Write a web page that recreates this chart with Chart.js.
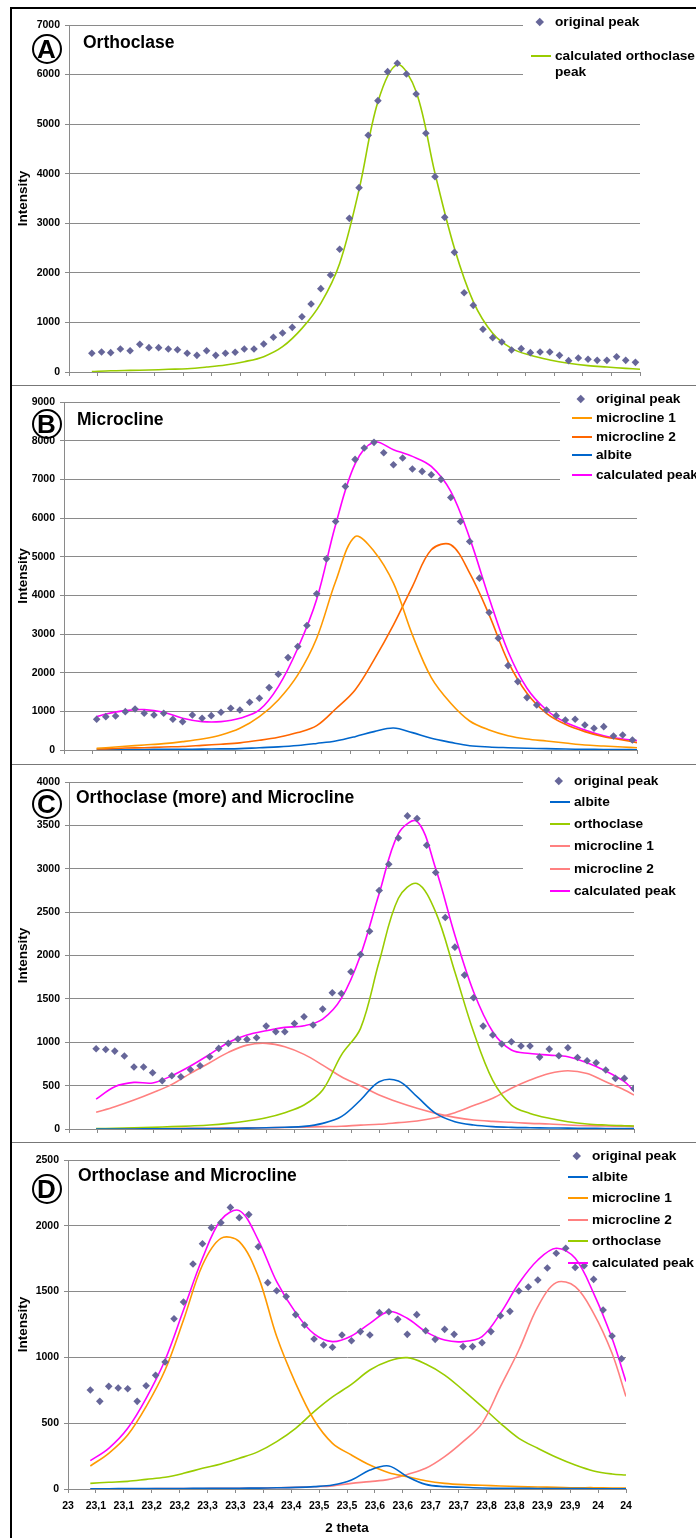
<!DOCTYPE html>
<html>
<head>
<meta charset="utf-8">
<script src="https://cdn.jsdelivr.net/npm/chart.js@4.4.1/dist/chart.umd.min.js"></script>
<style>
  html, body { margin: 0; padding: 0; background: #fff; }
  #page { position: relative; width: 696px; height: 1538px; overflow: hidden; font-family: "Liberation Sans", Arial, sans-serif; color: #000; }
  canvas { position: absolute; left: 0; }
  .frame { position: absolute; left: 10px; top: 7px; width: 800px; height: 1600px; border-left: 2px solid #000; border-top: 2px solid #000; z-index: 5; }
  .sep { position: absolute; left: 12px; width: 684px; height: 1px; background: #777; z-index: 5; }
  .title { position: absolute; font-weight: bold; font-size: 17.5px; line-height: 20px; white-space: nowrap; z-index: 4; }
  .badge { position: absolute; width: 26px; height: 26px; border: 2.5px solid #000; border-radius: 50%; font-weight: bold; font-size: 26px; line-height: 26px; text-align: center; z-index: 4; }
  .lg { position: absolute; height: 16px; font-weight: bold; font-size: 13.7px; line-height: 16px; white-space: pre; z-index: 4; }
  .ln { position: absolute; left: 0; top: 7px; width: 20px; height: 2px; }
  .dia { position: absolute; left: 6px; top: 5px; width: 5.5px; height: 5.5px; background: #666699; transform: rotate(45deg); }
  .lt { position: absolute; left: 24px; top: 0; }
</style>
</head>
<body>
<div id="page">
  <div class="frame"></div>
</div>
<script>
// 2 theta positions of the measured points (A, B and D share them, C is shifted)
const xGrid = [23.040, 23.057, 23.073, 23.090, 23.107, 23.124, 23.140, 23.157, 23.174, 23.190,
  23.207, 23.224, 23.241, 23.257, 23.274, 23.291, 23.307, 23.324, 23.341, 23.358,
  23.374, 23.391, 23.408, 23.424, 23.441, 23.458, 23.474, 23.491, 23.508, 23.524,
  23.541, 23.558, 23.575, 23.591, 23.608, 23.625, 23.641, 23.658, 23.675, 23.692,
  23.708, 23.725, 23.742, 23.758, 23.775, 23.792, 23.808, 23.825, 23.842, 23.859,
  23.875, 23.892, 23.909, 23.925, 23.942, 23.959, 23.975, 23.992];
const xGridB = xGrid.slice(1);
const xGridC = [23.048, 23.065, 23.081, 23.098, 23.115, 23.132, 23.148, 23.165, 23.182, 23.198,
  23.215, 23.232, 23.249, 23.265, 23.282, 23.299, 23.315, 23.332, 23.349, 23.366,
  23.382, 23.399, 23.416, 23.432, 23.449, 23.466, 23.482, 23.499, 23.516, 23.532,
  23.549, 23.566, 23.583, 23.599, 23.616, 23.633, 23.649, 23.666, 23.683, 23.700,
  23.716, 23.733, 23.750, 23.766, 23.783, 23.800, 23.816, 23.833, 23.850, 23.867,
  23.883, 23.900, 23.917, 23.933, 23.950, 23.967, 23.983, 24.000];

// 2 theta positions of the fitted curves
const xLine = [23.040, 23.073, 23.107, 23.140, 23.174, 23.207, 23.241, 23.274, 23.307, 23.341,
  23.374, 23.408, 23.441, 23.474, 23.508, 23.541, 23.575, 23.608, 23.641, 23.675,
  23.708, 23.742, 23.775, 23.808, 23.842, 23.875, 23.909, 23.942, 23.975, 24.000];
const xLineB = [23.057, 23.073, 23.107, 23.140, 23.174, 23.207, 23.241, 23.274, 23.307, 23.341,
  23.374, 23.408, 23.441, 23.474, 23.508, 23.541, 23.575, 23.608, 23.641, 23.675,
  23.708, 23.742, 23.775, 23.808, 23.842, 23.875, 23.909, 23.942, 23.975, 24.000];
const xLineC = [23.048, 23.081, 23.115, 23.148, 23.182, 23.215, 23.249, 23.282, 23.315, 23.349,
  23.382, 23.416, 23.449, 23.482, 23.516, 23.549, 23.583, 23.616, 23.649, 23.683,
  23.716, 23.750, 23.783, 23.816, 23.850, 23.883, 23.917, 23.950, 23.983, 24.000];

// A - Orthoclase
const peakA = [377, 403, 390, 464, 430, 558, 491, 491, 464, 450, 377, 336, 430, 336, 377, 397, 464, 464, 565, 700,
  787, 901, 1116, 1372, 1681, 1957, 2475, 3100, 3719, 4775, 5474, 6059, 6227, 6012, 5609, 4815, 3941, 3120, 2414, 1600,
  1345, 861, 693, 605, 444, 471, 390, 403, 403, 336, 229, 282, 256, 235, 235, 309, 235, 195];
const orthoA = [10, 25, 33, 40, 54, 67, 100, 141, 208, 310, 510, 880, 1385, 2190, 3680,
  5450, 6200, 5655, 4008, 2495, 1420, 780, 477, 336, 242, 175, 128, 100, 74, 54];

// B - Microcline
const peakB = [794, 863, 880, 992, 1061, 949, 906, 949, 794, 733, 906, 820, 889, 975, 1079, 1035, 1234, 1337, 1614, 1959,
  2390, 2675, 3219, 4038, 4944, 5911, 6817, 7516, 7809, 7956, 7688, 7378, 7550, 7266, 7205, 7119, 6998, 6532, 5911, 5393,
  4444, 3555, 2891, 2183, 1769, 1355, 1165, 1035, 889, 777, 794, 647, 561, 604, 362, 388, 259];
const mic1B = [43, 60, 95, 129, 164, 216, 285, 388, 561, 863, 1295, 1942, 2891, 4357, 5520,
  5143, 4314, 2977, 1872, 1208, 750, 518, 371, 285, 233, 181, 129, 104, 78, 60];
const mic2B = [26, 30, 50, 60, 78, 90, 120, 150, 185, 250, 330, 450, 630, 1060, 1553,
  2330, 3236, 4228, 5177, 5307, 4573, 3495, 2287, 1467, 949, 664, 475, 345, 259, 190];
const albB = [10, 10, 12, 14, 16, 18, 22, 28, 35, 60, 80, 115, 170, 233, 345,
  475, 570, 449, 302, 198, 112, 78, 60, 45, 35, 25, 18, 13, 10, 8];
const calcB = [863, 932, 1018, 1044, 975, 820, 733, 733, 820, 1035, 1640, 2632, 3900, 5824, 7400,
  7964, 7766, 7594, 7335, 6687, 5479, 3926, 2546, 1596, 1035, 716, 518, 371, 285, 242];

// C - Orthoclase (more) and Microcline
const peakC = [925, 917, 898, 841, 714, 714, 649, 557, 614, 603, 683, 729, 833, 929, 987, 1037, 1033, 1052, 1186, 1121,
  1121, 1217, 1294, 1198, 1382, 1570, 1562, 1812, 2012, 2280, 2749, 3052, 3355, 3609, 3578, 3271, 2956, 2438, 2096, 1774,
  1513, 1186, 1083, 979, 1006, 956, 956, 829, 921, 845, 937, 825, 787, 764, 680, 584, 584, 468];
const albC = [0, 0, 0, 2, 3, 4, 5, 7, 10, 14, 20, 30, 65, 142, 334,
  545, 553, 372, 180, 84, 46, 27, 19, 15, 12, 10, 8, 6, 5, 4];
const orthoC = [4, 8, 15, 19, 27, 35, 46, 65, 92, 130, 188, 276, 449, 852, 1160,
  1930, 2660, 2830, 2500, 1810, 1120, 560, 276, 180, 123, 84, 58, 46, 38, 35];
const mic1C = [192, 257, 334, 418, 514, 641, 764, 883, 967, 987, 948, 860, 737, 603, 499,
  392, 307, 238, 180, 134, 104, 88, 77, 65, 58, 46, 38, 35, 31, 27];
const mic2C = [2, 3, 4, 5, 6, 8, 9, 11, 13, 15, 18, 22, 27, 32, 45,
  54, 73, 92, 130, 188, 270, 355, 470, 565, 640, 672, 640, 545, 450, 392];
const calcC = [345, 488, 537, 530, 614, 726, 860, 998, 1083, 1133, 1171, 1190, 1267, 1505, 2004,
  2714, 3405, 3547, 3002, 2234, 1582, 1121, 910, 871, 852, 833, 764, 668, 545, 438];

// D - Orthoclase and Microcline
const peakD = [752, 666, 780, 767, 762, 666, 785, 864, 965, 1294, 1421, 1710, 1864, 1986, 2024, 2140, 2062, 2085, 1841, 1568,
  1507, 1462, 1325, 1246, 1140, 1094, 1077, 1170, 1127, 1196, 1170, 1340, 1347, 1289, 1175, 1325, 1203, 1137, 1213, 1175,
  1082, 1082, 1112, 1196, 1317, 1350, 1505, 1535, 1588, 1679, 1791, 1829, 1684, 1697, 1593, 1360, 1163, 990];
const albD = [2, 2, 3, 3, 4, 4, 5, 5, 6, 7, 9, 12, 18, 30, 68,
  144, 175, 94, 35, 18, 13, 8, 6, 5, 4, 3, 3, 2, 2, 2];
const mic1D = [175, 271, 410, 626, 904, 1284, 1702, 1905, 1880, 1614, 1158, 803, 524, 347, 258,
  182, 124, 94, 63, 43, 33, 28, 23, 18, 15, 13, 10, 10, 8, 8];
const mic2D = [1, 1, 2, 2, 3, 3, 4, 5, 6, 7, 9, 12, 17, 24, 43,
  56, 73, 111, 157, 246, 360, 499, 778, 1056, 1386, 1568, 1538, 1335, 1031, 702];
const orthoD = [43, 51, 58, 73, 89, 119, 157, 190, 233, 284, 360, 461, 588, 700, 795,
  904, 973, 998, 950, 866, 752, 626, 499, 385, 309, 241, 182, 137, 114, 106];
const calcD = [215, 309, 461, 689, 980, 1360, 1753, 2044, 2115, 1892, 1575, 1340, 1178, 1120, 1163,
  1259, 1348, 1297, 1196, 1132, 1120, 1158, 1335, 1563, 1740, 1829, 1753, 1487, 1145, 816];

// axis ranges and texts
const yMax = [7000, 9000, 4000, 2500];
const yStep = [1000, 1000, 500, 500];
const titles = ['Orthoclase', 'Microcline', 'Orthoclase (more) and Microcline', 'Orthoclase and Microcline'];
const letters = ['A', 'B', 'C', 'D'];

// colours (Excel 2003 palette)
const C_PEAK = '#666699';
const C_ORTHO = '#99cc00';
const C_CALC = '#ff00ff';
const C_MIC1 = '#ff9900';
const C_MIC2 = '#ff6600';
const C_ALB = '#0066cc';
const C_SALMON = '#ff8080';
const GRID = '#8a8a8a';

// page layout of the four panels (pixels)
var panels = [
  { top: 8,    height: 377, left: 69, right: 640, plotTop: 25,   plotBottom: 372,  mask: [523, 80],   badge: 49,   titleY: 42,   lgX: 531, lgRows: [22, 56] },
  { top: 386,  height: 378, left: 64, right: 637, plotTop: 402,  plotBottom: 750,  mask: [560, 490],  badge: 424,  titleY: 419,  lgX: 572, lgRows: [399, 418, 437, 455, 475] },
  { top: 765,  height: 377, left: 69, right: 634, plotTop: 782,  plotBottom: 1129, mask: [523, 905],  badge: 804,  titleY: 797,  lgX: 550, lgRows: [781, 802, 824, 846, 869, 891] },
  { top: 1143, height: 395, left: 68, right: 626, plotTop: 1160, plotBottom: 1489, mask: [560, 1270], badge: 1189, titleY: 1175, lgX: 568, lgRows: [1156, 1177, 1198, 1220, 1241, 1263] }
];
var titleX = [83, 77, 76, 78];
var seps = [385, 764, 1142];

Chart.defaults.font.family = '"Liberation Sans", Arial, sans-serif';
var tickFont = { size: 10.5, weight: 'bold' };
var axisFont = { size: 13.5, weight: 'bold' };
var page = document.getElementById('page');

function pts(xs, ys) {
  return xs.map(function (x, i) { return { x: x, y: ys[i] }; });
}
function peakSet(xs, ys) {
  return { label: 'original peak', data: pts(xs, ys), showLine: false, pointStyle: 'rectRot',
    pointRadius: 3.8, backgroundColor: C_PEAK, borderColor: C_PEAK, borderWidth: 0 };
}
function curveSet(label, xs, ys, color) {
  return { label: label, data: pts(xs, ys), showLine: true, borderColor: color, backgroundColor: color,
    borderWidth: 1.6, pointRadius: 0, tension: 0.35, fill: false };
}

// Excel style "23,1" labels
function thetaLabel(v) {
  var r = Math.round(v * 10 + 1e-6) / 10;
  return String(r).replace('.', ',');
}

// white legend box under the data, over the grid
var legendMask = {
  id: 'legendMask',
  beforeDatasetsDraw: function (chart, args, opts) {
    var ctx = chart.ctx;
    ctx.save();
    ctx.fillStyle = '#fff';
    ctx.fillRect(opts.x, 0, chart.width - opts.x, opts.y);
    ctx.restore();
  }
};

function makeChart(p, i, datasets) {
  var canvas = document.createElement('canvas');
  canvas.width = 696;
  canvas.height = p.height;
  canvas.style.top = p.top + 'px';
  page.appendChild(canvas);
  var showX = i === 3;
  return new Chart(canvas.getContext('2d'), {
    type: 'scatter',
    data: { datasets: datasets },
    options: {
      responsive: false,
      animation: false,
      devicePixelRatio: 1,
      layout: { padding: { left: 0, right: 696 - p.right, top: p.plotTop - p.top, bottom: 0 } },
      plugins: {
        legend: { display: false },
        tooltip: { enabled: false },
        legendMask: { x: p.mask[0], y: p.mask[1] - p.top }
      },
      scales: {
        x: {
          type: 'linear', min: 23, max: 24,
          afterFit: function (s) { s.height = p.top + p.height - p.plotBottom; },
          grid: { drawOnChartArea: false, drawTicks: true, tickLength: 4, color: GRID },
          border: { color: GRID },
          ticks: { display: showX, stepSize: 0.05, maxTicksLimit: 30, autoSkip: false, maxRotation: 0, minRotation: 0,
            padding: 7, color: '#000', font: tickFont, callback: thetaLabel },
          title: { display: showX, text: '2 theta', color: '#000', font: axisFont, padding: { top: 0, bottom: 2 } }
        },
        y: {
          min: 0, max: yMax[i],
          afterFit: function (s) { s.width = p.left; },
          grid: { color: GRID, tickLength: 4 },
          border: { color: GRID },
          ticks: { stepSize: yStep[i], padding: 5, color: '#000', font: tickFont,
            callback: function (v) { return String(v); } },
          title: { display: true, text: 'Intensity', color: '#000', font: axisFont, padding: { top: 15, bottom: 0 } }
        }
      }
    },
    plugins: [legendMask]
  });
}

function addLegend(p, names, colors) {
  names.forEach(function (name, k) {
    var row = document.createElement('div');
    row.className = 'lg';
    row.style.left = p.lgX + 'px';
    row.style.top = (p.lgRows[k] - 8) + 'px';
    var mark = document.createElement('span');
    if (colors[k] === null) {
      mark.className = 'dia';
    } else {
      mark.className = 'ln';
      mark.style.background = colors[k];
    }
    row.appendChild(mark);
    var txt = document.createElement('span');
    txt.className = 'lt';
    txt.textContent = name;
    row.appendChild(txt);
    page.appendChild(row);
  });
}

// series of each panel, legend order as in the figure
var series = [
  [
    ['calculated orthoclase\npeak', xLine, orthoA, C_ORTHO]
  ],
  [
    ['microcline 1', xLineB, mic1B, C_MIC1],
    ['microcline 2', xLineB, mic2B, C_MIC2],
    ['albite', xLineB, albB, C_ALB],
    ['calculated peak', xLineB, calcB, C_CALC]
  ],
  [
    ['albite', xLineC, albC, C_ALB],
    ['orthoclase', xLineC, orthoC, C_ORTHO],
    ['microcline 1', xLineC, mic1C, C_SALMON],
    ['microcline 2', xLineC, mic2C, C_SALMON],
    ['calculated peak', xLineC, calcC, C_CALC]
  ],
  [
    ['albite', xLine, albD, C_ALB],
    ['microcline 1', xLine, mic1D, C_MIC1],
    ['microcline 2', xLine, mic2D, C_SALMON],
    ['orthoclase', xLine, orthoD, C_ORTHO],
    ['calculated peak', xLine, calcD, C_CALC]
  ]
];
var peaks = [[xGrid, peakA], [xGridB, peakB], [xGridC, peakC], [xGrid, peakD]];

panels.forEach(function (p, i) {
  var ds = [peakSet(peaks[i][0], peaks[i][1])];
  series[i].forEach(function (s) { ds.push(curveSet(s[0], s[1], s[2], s[3])); });
  makeChart(p, i, ds);

  var names = ['original peak'].concat(series[i].map(function (s) { return s[0]; }));
  var colors = [null].concat(series[i].map(function (s) { return s[3]; }));
  addLegend(p, names, colors);

  var t = document.createElement('div');
  t.className = 'title';
  t.style.left = titleX[i] + 'px';
  t.style.top = (p.titleY - 10) + 'px';
  t.textContent = titles[i];
  page.appendChild(t);

  var b = document.createElement('div');
  b.className = 'badge';
  b.style.left = '31.5px';
  b.style.top = (p.badge - 15.5) + 'px';
  b.textContent = letters[i];
  page.appendChild(b);
});

seps.forEach(function (y) {
  var s = document.createElement('div');
  s.className = 'sep';
  s.style.top = y + 'px';
  page.appendChild(s);
});
</script>
</body>
</html>
